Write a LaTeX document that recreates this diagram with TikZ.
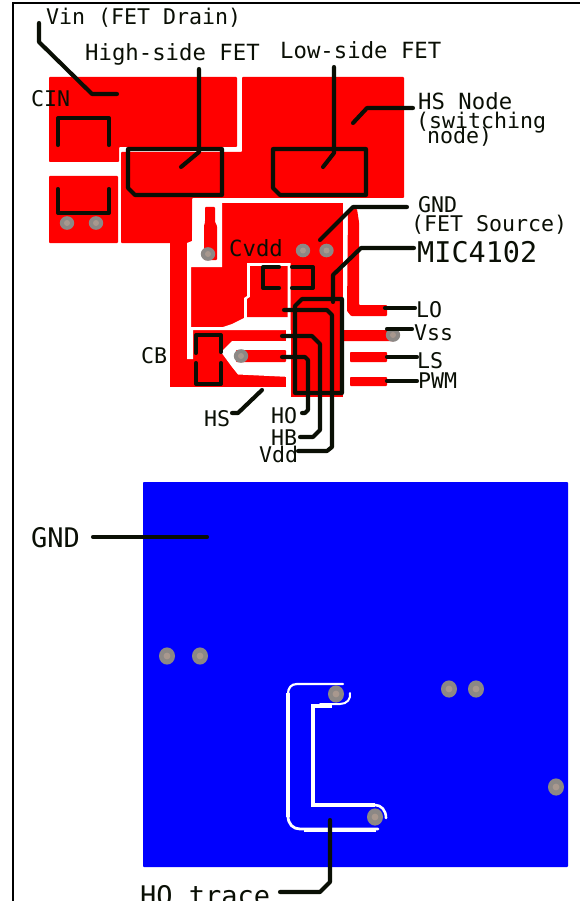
\documentclass[tikz,border=0pt]{standalone}
\usepackage{fontspec}
\newfontfamily\pcbfont{DejaVu Sans Mono}
\definecolor{ink}{HTML}{0A0F05}
\definecolor{viagray}{HTML}{8C8885}
\definecolor{viacore}{HTML}{A8988E}
\tikzset{
  copper/.style={fill=red,draw=none,rounded corners=0.8pt},
  plane/.style={fill=blue,draw=none,rounded corners=0.8pt},
  gap/.style={fill=white,draw=none},
  silk/.style={draw=ink,line width=4.1pt,line cap=round,line join=round},
  etch/.style={draw=white,line cap=round,line join=round},
  lab/.style={anchor=base west,inner sep=0pt,text=ink,font=\pcbfont\fontsize{21.6}{24}\selectfont},
  labwide/.style={lab,font=\pcbfont\fontsize{22.3}{24}\selectfont},
  labbig/.style={lab,font=\pcbfont\fontsize{27}{30}\selectfont},
  labmic/.style={lab,font=\pcbfont\fontsize{28.5}{30}\selectfont},
  viaring/.style={fill=viagray,draw=none},
  viahole/.style={fill=viacore,draw=none}
}
\newcommand{\pcbvia}[2]{%
  \fill[viaring] (#1,#2) ellipse [x radius=7.2pt,y radius=6.8pt];
  \fill[viahole] (#1,#2) circle [radius=3pt];}
\newcommand{\pcbviab}[2]{%
  \fill[viaring] (#1,#2) ellipse [x radius=8pt,y radius=8.6pt];
  \fill[viahole] (#1,#2) circle [radius=3.4pt];}
\begin{document}
\begin{tikzpicture}[x=1pt,y=-1pt]
\useasboundingbox (0,0) rectangle (580,901);
\clip (0,0) rectangle (580,901);
\fill[white] (0,0) rectangle (580,901);
% frame
\draw[draw=black,line width=2pt] (12.7,901) -- (12.7,3) -- (580,3);

% ---------- top layer copper
\path[copper] (49,77) -- (237,77) -- (237,147) -- (119,147) -- (119,162) -- (49,162) -- cycle;
\path[copper] (49,176) -- (118,176) -- (118,243) -- (49,243) -- cycle;
\path[copper] (242,77) -- (404,77) -- (404,198) -- (192,198) -- (192,243) -- (170,243)
  -- (121,243) -- (121,152) -- (242,152) -- cycle;
% lower body (column, chip, strips)
\path[fill=red] (170,240) rectangle (291,387);
\path[fill=red] (222,203) rectangle (343,387);
\path[fill=red] (291,387) rectangle (343,397);
% clearance around Cvdd via
\path[gap] (193,199) -- (222,199) -- (222,267) -- (191,267) -- (191,327) -- (193,330)
  -- (193,359) -- (187,359) -- (187,243) -- (192,241) -- cycle;
\path[copper] (205,207) -- (215,207) -- (215,222) -- (217,226) -- (217,260) -- (204,260) -- (204,226) -- (205,222) -- cycle;
% clearance around Cvdd pad
\path[gap] (247,263) -- (290.5,263) -- (290.5,330) -- (222,330) -- (191,330) -- (191,327)
  -- (223,327) -- (232,324) -- (244,318) -- (244,298) -- (247,296) -- cycle;
\path[fill=red] (250,266) -- (287.5,266) -- (287.5,317) -- (247,317) -- (247,299) -- (250,297) -- cycle;
% clearance around HS via
\path[gap] (221,352) -- (232,341) -- (290.5,341) -- (290.5,377) -- (238,374.5) -- (232,367) -- cycle;
\path[gap] (286,330) rectangle (290.8,397);
\path[copper] (236,350) -- (286,350) -- (286,362) -- (236,362) -- cycle;
% right side strips
\path[copper] (348,209) -- (357,209) -- (359,222) -- (359,305) -- (387,305) -- (387,316) -- (351,316) -- (347,311) -- cycle;
\path[copper] (343,330) -- (398,330) -- (398,337) -- (395,341) -- (343,341) -- cycle;
\path[copper] (350,352) rectangle (387,362);
\path[copper] (350,377) rectangle (387,386);

% top vias
\pcbvia{67}{223}
\pcbvia{96}{223}
\pcbvia{208}{254}
\pcbvia{303}{250.5}
\pcbvia{326.5}{250.5}
\pcbvia{241}{356}
\pcbvia{393}{335}

% ---------- bottom layer plane
\path[plane] (143,482) rectangle (568,867);
\draw[etch,line width=3.6pt,line cap=butt] (288,693) -- (288,817);
\draw[etch,line width=2.2pt] (343,684) -- (297,684) .. controls (291,684) and (288,688) .. (288,694);
\draw[etch,line width=2.8pt] (288,816) .. controls (288,824) and (293,829) .. (300,829) -- (378,829);
\draw[etch,line width=4pt,line cap=butt] (304,830) -- (376,830);
\draw[etch,line width=2pt] (350,693) .. controls (351,699) and (347,704) .. (340,704) -- (320,704);
\draw[etch,line width=3.6pt,line cap=butt] (311,706) -- (332,706);
\draw[etch,line width=4pt,line cap=butt] (313,704) -- (313,807);
\draw[etch,line width=3.4pt,line cap=butt] (311,805) -- (375,805);
\draw[etch,line width=2.6pt] (375,805) .. controls (381,805) and (386,810) .. (386,818);
\pcbviab{167}{656}
\pcbviab{200}{656}
\pcbviab{449}{689}
\pcbviab{476}{689}
\pcbviab{556}{787}
\pcbviab{336}{694}
\pcbviab{375}{817}

% ---------- silk outlines
\draw[silk] (58,145) -- (58,118) -- (109,118) -- (109,145);
\draw[silk] (58,189) -- (58,213) -- (109,213) -- (109,189);
\draw[silk] (128,149) -- (222,149) -- (222,195) -- (135,195) -- (128,188) -- cycle;
\draw[silk] (273,149) -- (366,149) -- (366,195) -- (280,195) -- (273,188) -- cycle;
\draw[silk] (279,267) -- (263,267) -- (263,288) -- (279,288);
\draw[silk] (292,267) -- (313,267) -- (313,288) -- (292,288);
\draw[silk] (196,353) -- (196,335) -- (221,335) -- (221,352);
\draw[silk] (196,363) -- (196,384) -- (221,384) -- (221,363);
\draw[silk] (295,306) -- (302,299) -- (342,299) -- (342,393) -- (295,393) -- cycle;

% ---------- leaders
\draw[silk] (39,23) -- (39,42) -- (92,94) -- (117,94);
\draw[silk] (199,69) -- (199,152) -- (181,167);
\draw[silk] (334,67) -- (334,153) -- (323,167);
\draw[silk] (413,108) -- (367,108) -- (353,123);
\draw[silk] (407,207) -- (353,207) -- (320,240);
\draw[silk] (414,248) -- (361,248) -- (333,275) -- (333,302);
\draw[silk] (284,310) -- (327,310) -- (332,315) -- (332,447) -- (327,451) -- (298,451);
\draw[silk] (282,336) -- (312,336) -- (320,344) -- (320,430) -- (313,437) -- (300,437);
\draw[silk] (282,357) -- (305,357) -- (308,360) -- (308,410) -- (305,413) -- (302,413);
\draw[silk] (385,308) -- (415,308);
\draw[silk] (387,329) -- (412,329);
\draw[silk] (387,357) -- (417,357);
\draw[silk] (387,381) -- (417,381);
\draw[silk] (262,390) -- (238,413) -- (232,413);
\draw[silk] (93,537) -- (207,537);
\draw[silk] (330,820) -- (330,882) -- (320,892) -- (280,892);

% ---------- labels
\node[lab] (vin) at (46,25) {Vin (FET Drain)};
\node[labwide] (hsfet) at (85,61) {High-side FET};
\node[labwide] (lsfet) at (280,59) {Low-side FET};
\node[lab] (cin) at (31,107) {CIN};
\node[labwide] (hsnode) at (418,110) {HS Node};
\node[lab] (sw) at (416,129) {(switching};
\node[lab] (nd) at (427,144) {node)};
\node[lab] (gndt) at (418,213) {GND};
\node[lab] (fets) at (411,232) {(FET Source)};
\node[labmic] (mic) at (417,262) {MIC4102};
\node[labwide] (cvdd) at (229,256) {Cvdd};
\node[lab] (lo) at (416,317) {LO};
\node[lab] (vss) at (414,340) {Vss};
\node[lab] (ls) at (417,368) {LS};
\node[lab] (pwm) at (418,388) {PWM};
\node[lab] (cb) at (141,363) {CB};
\node[lab] (hs) at (204,426) {HS};
\node[lab] (ho) at (271,423) {HO};
\node[lab] (hb) at (271,445) {HB};
\node[lab] (vdd) at (259,462) {Vdd};
\node[labbig] (gndb) at (31,547) {GND};
\node[labbig] (hotrace) at (140,905) {HO trace};
\end{tikzpicture}
\end{document}
